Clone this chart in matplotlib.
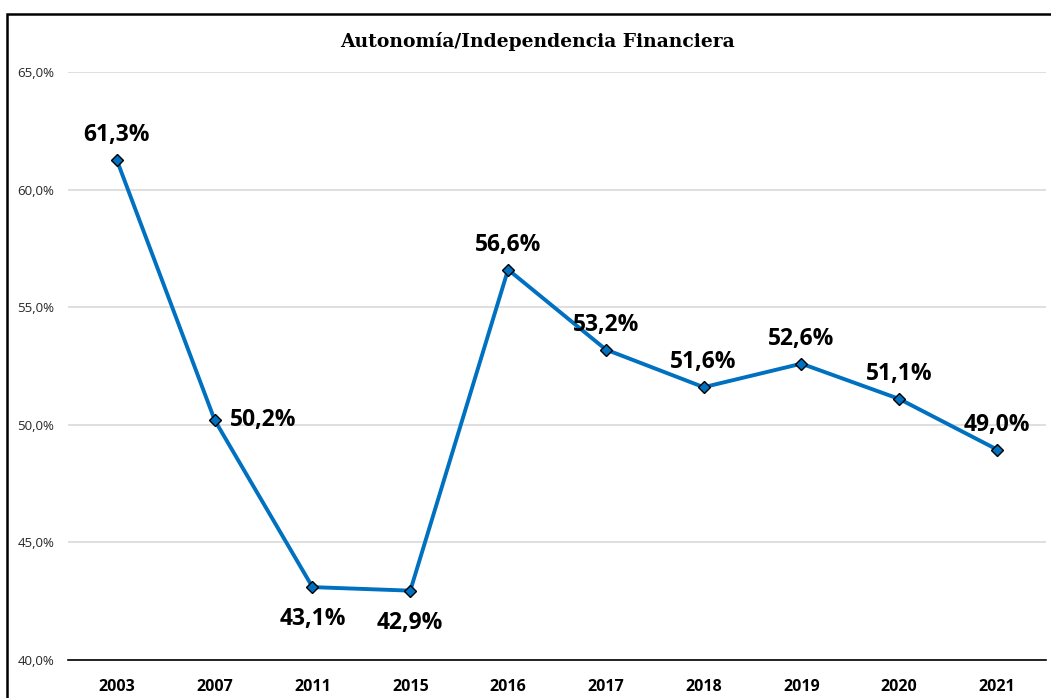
import matplotlib.pyplot as plt
from matplotlib.patches import Rectangle
from matplotlib.ticker import FuncFormatter

years = ['2003', '2007', '2011', '2015', '2016', '2017', '2018', '2019', '2020', '2021']
values = [61.25, 50.2, 43.1, 42.95, 56.6, 53.2, 51.6, 52.6, 51.1, 48.95]
labels = ['61,3%', '50,2%', '43,1%', '42,9%', '56,6%', '53,2%', '51,6%', '52,6%', '51,1%', '49,0%']
# posición de cada etiqueta: (dx, dy) en puntos
offsets = [(0, 18), (11, 0), (0, -23), (0, -23), (0, 18), (0, 18), (0, 18), (0, 18), (0, 18), (0, 18)]
aligns = ['center', 'left', 'center', 'center', 'center', 'center', 'center', 'center', 'center', 'center']

fig = plt.figure(figsize=(10.51, 6.98), dpi=100)
ax = fig.add_axes([0.0647, 0.0544, 0.9305, 0.8424])

# marco exterior
fig.patches.append(Rectangle((7 / 1051, -0.01), 1.02, 1 - 13.5 / 698 + 0.01,
                             transform=fig.transFigure, fill=False,
                             edgecolor='black', linewidth=1.8))

x = list(range(len(years)))
ax.plot(x, values, color='#0070c0', linewidth=2.8, marker='D', markersize=6,
        markerfacecolor='#0070c0', markeredgecolor='black', markeredgewidth=1.0,
        zorder=3)

for i, (v, t) in enumerate(zip(values, labels)):
    dx, dy = offsets[i]
    ax.annotate(t, (i, v), xytext=(dx, dy), textcoords='offset points',
                ha=aligns[i], va='center', fontsize=16.5, fontweight='bold',
                family='Open Sans', color='black')

ax.set_xlim(-0.5, len(years) - 0.5)
ax.set_ylim(40, 65)
ax.set_yticks([40, 45, 50, 55, 60, 65])
ax.yaxis.set_major_formatter(FuncFormatter(lambda v, p: f'{v:.1f}%'.replace('.', ',')))
ax.set_xticks(x)
ax.set_xticklabels(years, fontweight='bold', fontsize=11.5, family='Open Sans')
for lab in ax.get_yticklabels():
    lab.set_fontsize(9.5)
    lab.set_family('Open Sans')
    lab.set_color('#262626')

ax.grid(axis='y', color='#d9d9d9', linewidth=1.2)
ax.set_axisbelow(True)
for s in ['top', 'right', 'left']:
    ax.spines[s].set_visible(False)
ax.spines['bottom'].set_color('black')
ax.spines['bottom'].set_linewidth(1.2)
ax.tick_params(axis='x', length=0, pad=14)
ax.tick_params(axis='y', length=0, pad=10)

fig.text(0.511, 0.94, 'Autonomía/Independencia Financiera', ha='center', va='center',
         fontsize=13.5, fontweight='bold', family='DejaVu Serif')

fig.savefig('out.png', dpi=100)
